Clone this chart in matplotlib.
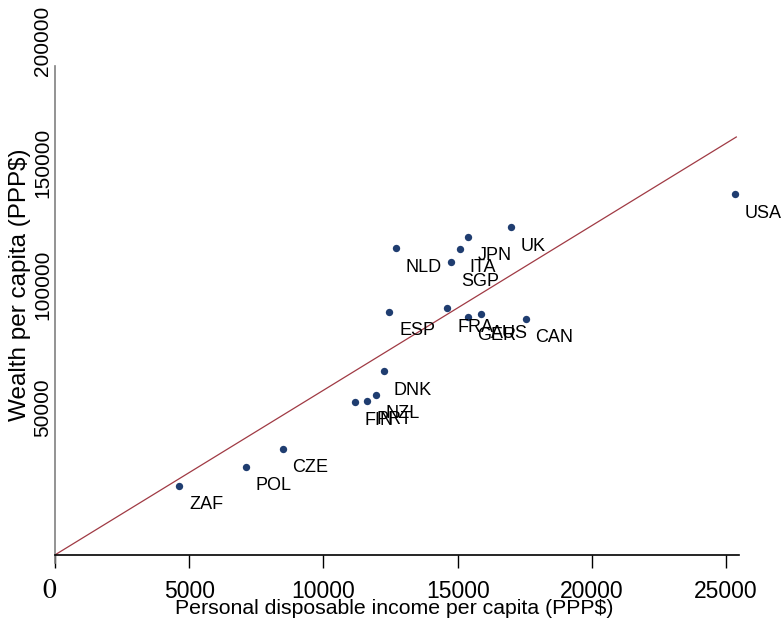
"""Wealth vs personal disposable income per capita, scatter with reference line."""
import matplotlib
matplotlib.use("Agg")
import matplotlib.pyplot as plt
from matplotlib.transforms import ScaledTranslation

plt.rcParams["font.family"] = ["Liberation Sans", "DejaVu Sans"]

countries = ["ZAF", "POL", "CZE", "DNK", "FIN", "PRT", "NZL", "NLD", "SGP", "ITA",
             "JPN", "UK", "ESP", "FRA", "GER", "AUS", "CAN", "USA"]
income = [4630, 7110, 8490, 12250, 11180, 11620, 11950, 12700, 14770, 15070,
          15380, 16990, 12460, 14620, 15370, 15880, 17540, 25320]
wealth = [28300, 36100, 43450, 75100, 62650, 62950, 65500, 125350, 119650, 125200,
          130100, 133950, 99450, 100950, 97300, 98400, 96600, 147550]

line_x = [0, 25380]
line_y = [0, 170850]

xticks = [0, 5000, 10000, 15000, 20000, 25000]
yticks = [50000, 100000, 150000, 200000]

fig = plt.figure(figsize=(7.82, 6.31), dpi=100)
ax = fig.add_axes([0.0703, 0.1078, 0.8747, 0.7881])

ax.plot(line_x, line_y, color="#a03a44", lw=0.9, zorder=2)
ax.scatter(income, wealth, s=28, color="#1f3d70", zorder=3, linewidths=0)
for name, x, y in zip(countries, income, wealth):
    ax.annotate(name, (x, y), xytext=(7.0, -13.7), textcoords="offset points",
                ha="left", va="center", fontsize=13, annotation_clip=False)

ax.set_xlim(0, 25480)
ax.set_ylim(-3300, 200000)

for s in ["top", "right"]:
    ax.spines[s].set_visible(False)
ax.spines["bottom"].set_position(("data", 0))
ax.spines["bottom"].set_color("black")
ax.spines["bottom"].set_linewidth(1.2)
ax.spines["left"].set_color("#808080")
ax.spines["left"].set_linewidth(1.2)

# origin label is a serif "0" (STIX via mathtext), drawn on its own below
ax.set_xticks(xticks)
ax.set_xticklabels([""] + [str(t) for t in xticks[1:]], fontsize=16.5)
ax.tick_params(axis="x", length=9, width=1, color="black", pad=9)
ax.annotate(r"$\mathrm{%d}$" % xticks[0], (xticks[0], 0), xytext=(-3.6, -26),
            textcoords="offset points", ha="center", va="center", fontsize=20,
            math_fontfamily="stix", annotation_clip=False)

ax.set_yticks(yticks)
ax.set_yticklabels([str(t) for t in yticks], fontsize=15, rotation=90, va="center")
ax.tick_params(axis="y", length=0, pad=2)
shift = ScaledTranslation(0, 25 / 100, fig.dpi_scale_trans)
for lab in ax.get_yticklabels():
    lab.set_transform(lab.get_transform() + shift)

ax.set_xlabel("Personal disposable income per capita (PPP$)", fontsize=15.3)
ax.xaxis.label.set_va("center")
ax.xaxis.set_label_coords(0.4956, -0.0925)
ax.set_ylabel("Wealth per capita (PPP$)", fontsize=17.5)
ax.yaxis.label.set_va("center")
ax.yaxis.set_label_coords(-0.0512, 0.56)

fig.savefig("out.png", dpi=100)
